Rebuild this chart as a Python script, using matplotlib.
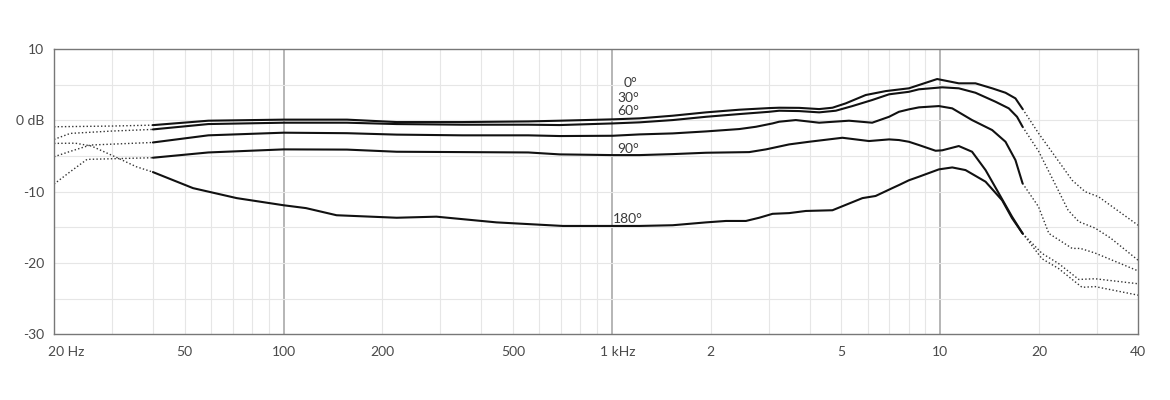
import matplotlib

matplotlib.use("Agg")
import matplotlib.pyplot as plt
import matplotlib.transforms as mtransforms
import matplotlib.ticker as mticker

# measured (solid) parts, Hz / dB
F_0 = [40, 59, 100, 156, 221, 350, 556, 693, 1006, 1213, 1531, 1934, 2442, 3012, 3230, 3716,
       4275, 4693, 5150, 5925, 6816, 8020, 8604, 9780, 11380, 12790, 14380, 15790, 16930, 17800]
DB_0 = [-0.67, -0.05, 0.1, 0.1, -0.24, -0.24, -0.15, -0.05, 0.14, 0.28, 0.65, 1.12, 1.49, 1.72, 1.77, 1.75,
        1.58, 1.77, 2.38, 3.55, 4.1, 4.49, 4.95, 5.79, 5.19, 5.19, 4.49, 3.87, 3.08, 1.6]

F_30 = [40, 59, 100, 156, 221, 350, 556, 693, 1006, 1213, 1531, 1934, 2442, 3012, 3230, 3716,
        4275, 4803, 5395, 6200, 6980, 8020, 8604, 10130, 11380, 12790, 14720, 16160, 17120, 17800]
DB_30 = [-1.27, -0.52, -0.33, -0.33, -0.52, -0.61, -0.61, -0.66, -0.43, -0.28, 0.04, 0.5, 0.88, 1.2, 1.35, 1.3,
         1.12, 1.35, 2.0, 2.85, 3.65, 4.0, 4.35, 4.63, 4.49, 3.87, 2.61, 1.68, 0.5, -0.9]

F_60 = [40, 59, 100, 156, 221, 350, 556, 693, 1006, 1213, 1531, 1934, 2442, 2744, 3083, 3230, 3630,
        4275, 5270, 6200, 6980, 7480, 8020, 8604, 9900, 10870, 12490, 14380, 15790, 16930, 17800]
DB_60 = [-3.1, -2.1, -1.73, -1.8, -2.0, -2.1, -2.1, -2.2, -2.16, -1.97, -1.83, -1.55, -1.22, -0.9, -0.43, -0.19, 0.04,
         -0.33, -0.05, -0.33, 0.5, 1.2, 1.54, 1.82, 2.0, 1.68, 0.04, -1.36, -3.0, -5.57, -8.84]

F_90 = [40, 59, 100, 156, 221, 350, 556, 693, 1006, 1213, 1531, 1934, 2618, 2943, 3464, 3986,
        5032, 6063, 6980, 7480, 8020, 8604, 9670, 10130, 11380, 12490, 13730, 15070, 16530, 17800]
DB_90 = [-5.24, -4.5, -4.07, -4.1, -4.4, -4.45, -4.5, -4.77, -4.87, -4.87, -4.73, -4.54, -4.45, -4.07, -3.37, -3.0,
         -2.44, -2.9, -2.67, -2.76, -3.0, -3.46, -4.26, -4.2, -3.6, -4.4, -6.97, -10.24, -13.5, -15.85]

F_180 = [40, 53, 72, 100, 117, 145, 221, 292, 445, 708, 1006, 1213, 1531, 1934, 2224, 2558, 2808,
         3083, 3464, 3894, 4693, 5790, 6350, 7138, 7480, 8020, 8604, 9900, 10870, 11930, 13730,
         15420, 16530, 17800]
DB_180 = [-7.25, -9.5, -10.9, -11.9, -12.3, -13.3, -13.65, -13.5, -14.3, -14.8, -14.8, -14.8, -14.7, -14.3, -14.1, -14.1, -13.65,
          -13.1, -13.0, -12.7, -12.6, -10.9, -10.6, -9.5, -9.07, -8.4, -7.9, -6.87, -6.6, -6.97, -8.6,
          -11.2, -13.7, -15.85]

# extrapolated (dotted) ends, low side
LO_F_0, LO_DB_0 = [20, 30, 40], [-0.9, -0.8, -0.67]
LO_F_30, LO_DB_30 = [20, 22.4, 30, 40], [-2.67, -1.83, -1.5, -1.27]
LO_F_60, LO_DB_60 = [20, 22.4, 25.8, 40], [-5.1, -4.35, -3.46, -3.1]
LO_F_90, LO_DB_90 = [20, 22.4, 25.2, 40], [-8.93, -7.2, -5.47, -5.24]
LO_F_180, LO_DB_180 = [20, 23.2, 26, 31, 35.6, 40], [-3.23, -3.2, -3.6, -5.2, -6.5, -7.25]

# dotted ends, high side
HI_F_0, HI_DB_0 = [17800, 19900, 22400, 25200, 27600, 30300, 40000], [1.6, -1.8, -5.1, -8.4, -10.0, -10.7, -14.7]
HI_F_30, HI_DB_30 = [17800, 19900, 22400, 24500, 26400, 29600, 33000, 40000], [-0.9, -4.3, -9.0, -12.6, -14.2, -15.1, -16.5, -19.6]
HI_F_60, HI_DB_60 = [17800, 19900, 21400, 25200, 26700, 29600, 40000], [-8.84, -12.1, -15.85, -17.95, -17.95, -18.6, -21.1]
HI_F_90, HI_DB_90 = [17800, 20400, 22900, 26400, 29600, 40000], [-15.85, -18.65, -20.06, -22.3, -22.2, -22.9]
HI_F_180, HI_DB_180 = [17800, 20400, 22900, 27000, 29600, 40000], [-15.85, -19.4, -20.76, -23.4, -23.3, -24.5]

LABELS = ["0°", "30°", "60°", "90°", "180°"]
LABEL_F = [1084, 1040, 1040, 1040, 1004]
LABEL_DB = [4.7, 2.6, 0.7, -4.6, -14.4]

XTICKS = [20, 50, 100, 200, 500, 1000, 2000, 5000, 10000, 20000, 40000]
XTICKLABELS = ["20 Hz", "50", "100", "200", "500", "1 kHz", "2", "5", "10", "20", "40"]
YTICKS = [10, 0, -10, -20, -30]
YTICKLABELS = ["10", "0 dB", "-10", "-20", "-30"]

FONT = ["Lato", "DejaVu Sans"]
TXT = "#4a4a4a"

fig = plt.figure(figsize=(11.7, 4.0), dpi=100, facecolor="white")
ax = fig.add_axes([0.0462, 0.164, 0.9265, 0.7135])
ax.set_xscale("log")
ax.set_xlim(20, 40000)
ax.set_ylim(-30, 10)

# grid: 2..9 per decade, skipping the stretch just above each labelled decade
minor = [m * d for d in (10, 100, 1000, 10000) for m in range(2, 10)
         if 20 < m * d < 40000 and m != 1
         and not (100 < m * d < 200) and not (1000 < m * d < 2000) and not (10000 < m * d < 20000)]
for f in minor:
    ax.axvline(f, color="#e6e6e6", lw=0.8, zorder=0)
for f in (100, 1000, 10000):
    ax.axvline(f, color="#b0b0b0", lw=1.3, zorder=0)
for v in range(-25, 10, 5):
    ax.axhline(v, color="#e6e6e6", lw=0.8, zorder=0)

solid = [(F_0, DB_0), (F_30, DB_30), (F_60, DB_60), (F_90, DB_90), (F_180, DB_180)]
lows = [(LO_F_0, LO_DB_0), (LO_F_30, LO_DB_30), (LO_F_60, LO_DB_60), (LO_F_90, LO_DB_90), (LO_F_180, LO_DB_180)]
highs = [(HI_F_0, HI_DB_0), (HI_F_30, HI_DB_30), (HI_F_60, HI_DB_60), (HI_F_90, HI_DB_90), (HI_F_180, HI_DB_180)]

for f, db in solid:
    ax.plot(f, db, color="#111111", lw=1.5, solid_joinstyle="round", solid_capstyle="round", zorder=3)
for f, db in lows + highs:
    ax.plot(f, db, color="#333333", lw=1.0, linestyle=(0, (1, 1.6)), zorder=2)

for lab, f, db in zip(LABELS, LABEL_F, LABEL_DB):
    ax.text(f, db, lab, ha="left", va="baseline", fontsize=10, color="#3a3a3a", family=FONT)

ax.set_xticks(XTICKS)
ax.set_xticklabels(XTICKLABELS)
ax.xaxis.set_minor_locator(mticker.NullLocator())
ax.set_yticks(YTICKS)
ax.set_yticklabels(YTICKLABELS)
ax.tick_params(length=0, labelsize=10, labelcolor=TXT)
ax.tick_params(axis="x", pad=8)
ax.tick_params(axis="y", pad=7)
for lab in ax.get_xticklabels() + ax.get_yticklabels():
    lab.set_family(FONT)

# unit labels hang to the right of their tick
xl = ax.get_xticklabels()
for i, dx in ((0, 0.12), (5, 0.055)):
    off = mtransforms.ScaledTranslation(dx, 0, fig.dpi_scale_trans)
    xl[i].set_transform(xl[i].get_transform() + off)

for s in ax.spines.values():
    s.set_color("#777777")
    s.set_linewidth(1.0)

fig.savefig("out.png", dpi=100, facecolor="white")
